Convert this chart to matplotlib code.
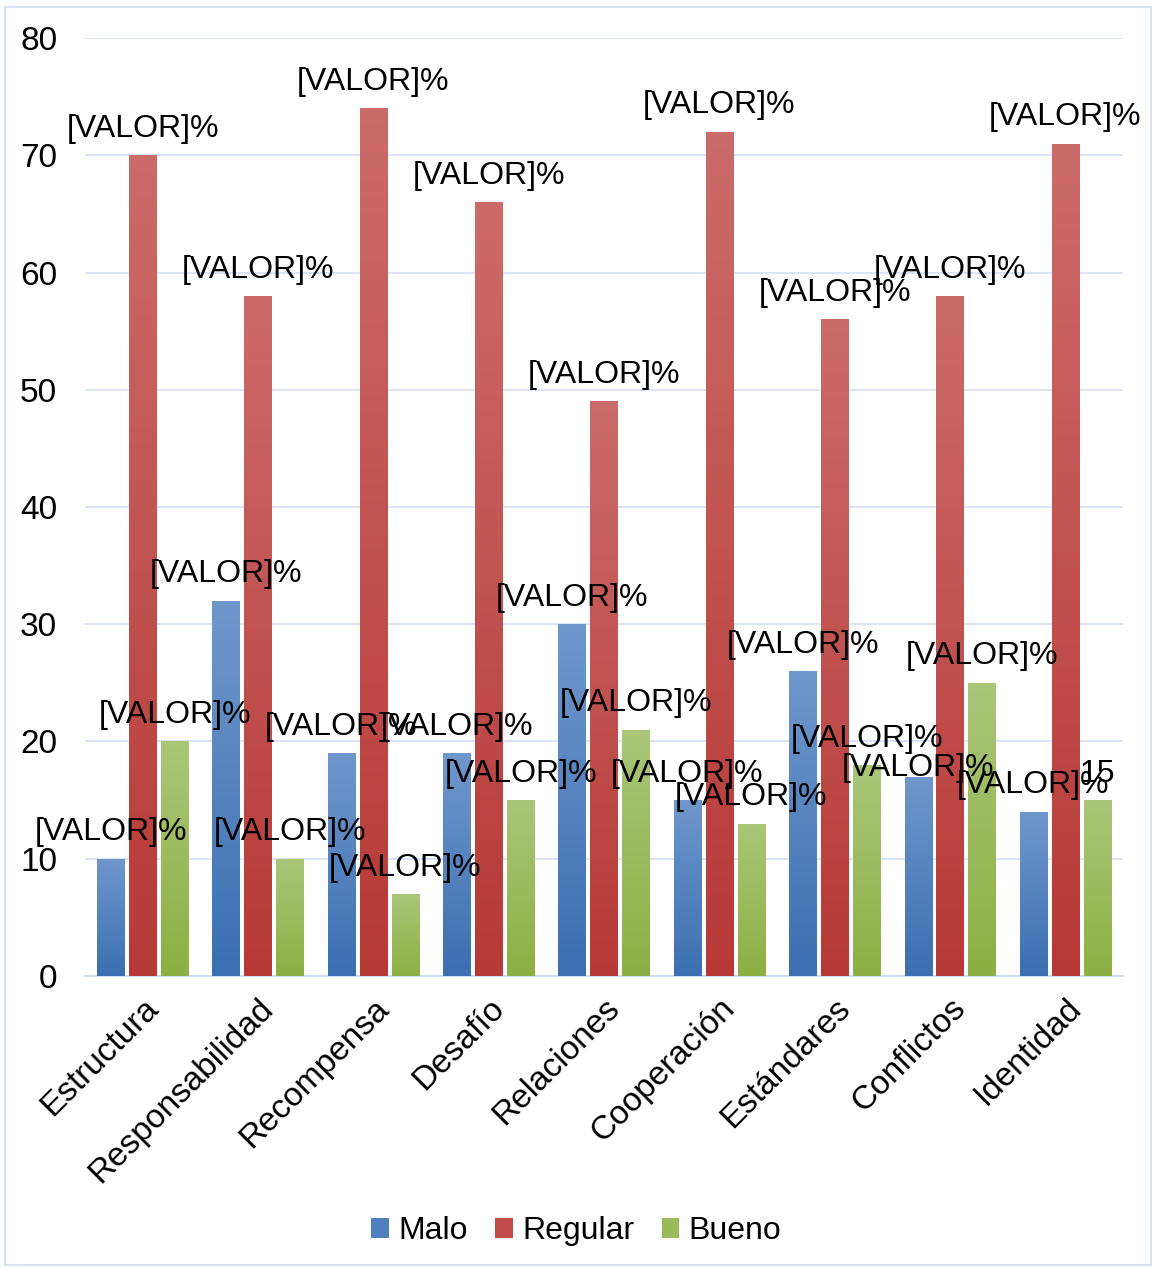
import numpy as np
import matplotlib
matplotlib.use("Agg")
from matplotlib import pyplot as plt
from matplotlib.colors import LinearSegmentedColormap
from matplotlib.patches import Rectangle, Patch

plt.rcParams['font.family'] = ['Liberation Sans', 'DejaVu Sans']

categorias = ["Estructura", "Responsabilidad", "Recompensa", "Desafío", "Relaciones",
              "Cooperación", "Estándares", "Conflictos", "Identidad"]
malo = [10, 32, 19, 19, 30, 15, 26, 17, 14]
regular = [70, 58, 74, 66, 49, 72, 56, 58, 71]
bueno = [20, 10, 7, 15, 21, 13, 18, 25, 15]
series = ["Malo", "Regular", "Bueno"]

# etiquetas de datos tal como salieron del Excel
etiq_malo = ["[VALOR]%"] * 9
etiq_regular = ["[VALOR]%"] * 9
etiq_bueno = ["[VALOR]%"] * 8 + ["15"]

# (arriba, abajo) del degradado de cada serie
colores = [("#7097cc", "#3b6fb1"), ("#cb6c6a", "#b73936"), ("#aac679", "#8cb043")]

fig = plt.figure(figsize=(11.53, 12.68), dpi=100)
ax = fig.add_axes([0.0737, 0.2303, 0.9003, 0.7397])

x = np.arange(len(categorias))
paso = 0.277
ancho = 0.235
grad = np.linspace(0, 1, 256).reshape(-1, 1)

for i, (vals, etqs) in enumerate(zip([malo, regular, bueno], [etiq_malo, etiq_regular, etiq_bueno])):
    arriba, abajo = colores[i]
    cmap = LinearSegmentedColormap.from_list("g%d" % i, [abajo, arriba])
    barras = ax.bar(x + (i - 1) * paso, vals, ancho, color=abajo, zorder=2)
    for j, (b, t) in enumerate(zip(barras, etqs)):
        x0, w, h = b.get_x(), b.get_width(), b.get_height()
        im = ax.imshow(grad, extent=[x0, x0 + w, 0, h], origin="lower", cmap=cmap,
                       aspect="auto", zorder=3)
        im.set_clip_path(b)
        desp = 19
        if i == 0 and categorias[j] == "Conflictos":
            desp = 6
        ax.annotate(t, (x0 + w / 2, h), xytext=(0, desp), textcoords="offset points",
                    ha="center", va="center", fontsize=23, zorder=5)

ax.set_xlim(-0.5, len(categorias) - 0.5)
ax.set_ylim(0, 80)
ax.set_yticks(np.arange(0, 81, 10))
ax.yaxis.grid(True, color="#d9e4f2", lw=1.4)
ax.set_axisbelow(True)
for s in ["left", "right", "top"]:
    ax.spines[s].set_visible(False)
ax.spines["bottom"].set_color("#d0dcee")
ax.spines["bottom"].set_linewidth(1.4)
ax.tick_params(length=0, labelsize=24, pad=12)
ax.tick_params(axis="y", pad=20)
ax.set_xticks(x)
ax.set_xticklabels(categorias, rotation=45, ha="right", rotation_mode="anchor")

handles = [Patch(facecolor=c, edgecolor="none") for c in ["#4f7fbf", "#c04c49", "#9bbb59"]]
fig.legend(handles, series, loc="center", bbox_to_anchor=(0.5, 0.029), ncol=3, frameon=False,
           fontsize=23, handlelength=0.55, handleheight=0.55, handletextpad=0.3,
           columnspacing=0.85)

fig.patches.append(Rectangle((5 / 1153, 3 / 1268), 1146 / 1153, 1258 / 1268, fill=False,
                             edgecolor="#d9e2f0", lw=1.5, transform=fig.transFigure))

fig.savefig("out.png", dpi=100)
